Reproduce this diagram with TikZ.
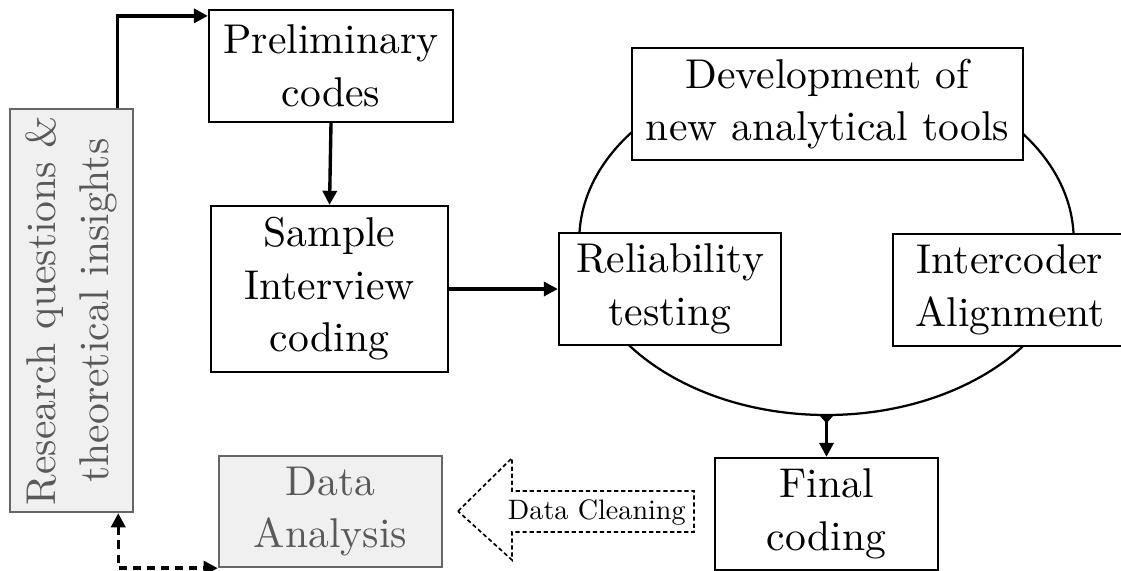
\documentclass[tikz,border=0pt]{standalone}
\usepackage{tikz}
\usetikzlibrary{arrows.meta}
\font\boxfont="[lmroman10-regular]" at 14.8pt

\begin{document}
\begin{tikzpicture}[
    >={Triangle[length=5pt,width=5pt]},
    box/.style={draw,thick,fill=white,align=center,
      font=\fontsize{14.8pt}{18.7pt}\selectfont\boxfont,
      minimum height=1.4cm,inner sep=0pt},
    graybox/.style={box,draw=black!60,fill=black!6,text=black!65},
    arr/.style={->,very thick}
  ]
  \useasboundingbox (0,0) rectangle (14.0125,-7.1375);
  % cycle of the coding rounds
  \draw[thick] (10.331,-3.0) ellipse [x radius=3.09,y radius=2.1875];
  \coordinate (ebot) at (10.331,-5.1875);

  \node[graybox,rotate=90,minimum width=5.04cm,minimum height=1.54cm]
    (rq) at (0.894,-3.881) {Research questions \&\\theoretical insights};
  \node[box,minimum width=3.05cm] (pc) at (4.1375,-0.825) {Preliminary\\codes};
  \node[box,minimum width=2.96cm,minimum height=2.075cm]
    (sic) at (4.119,-3.6125) {Sample\\Interview\\coding};
  \node[box,minimum width=4.89cm] (dev) at (10.344,-1.3)
    {Development of\\new analytical tools};
  \node[box,minimum width=2.775cm] (rel) at (8.375,-3.6125) {Reliability\\testing};
  \node[box,minimum width=2.925cm] (ic) at (12.625,-3.625) {Intercoder\\Alignment};
  \node[box,minimum width=2.79cm] (fin) at (10.331,-6.425) {Final\\coding};
  \node[graybox,minimum width=2.79cm,minimum height=1.3875cm]
    (da) at (4.131,-6.394) {Data\\Analysis};

  \draw[arr] ([xshift=-0.2125cm]rq.south east) |- ([yshift=-0.0875cm]pc.north west);
  \draw[arr] (pc.south) -- (sic.north);
  \draw[arr] (sic.east) -- (rel.west);
  \draw[very thick,{Triangle[reversed,length=3pt,width=5pt]}->] (ebot) -- (fin.north);
  \draw[<->,very thick,densely dashed] ([xshift=-0.2cm]rq.south west) |- (da.south west);

  % big hollow arrow
  \draw[semithick,dash pattern=on 1.5pt off 1pt]
    (5.725,-6.39) -- (6.4,-5.725) -- (6.4,-6.1375) -- (8.675,-6.1375)
    -- (8.675,-6.65) -- (6.4,-6.65) -- (6.4,-7.0) -- cycle;
  \node (clean) at (7.46,-6.4) {Data Cleaning};
\end{tikzpicture}
\end{document}
